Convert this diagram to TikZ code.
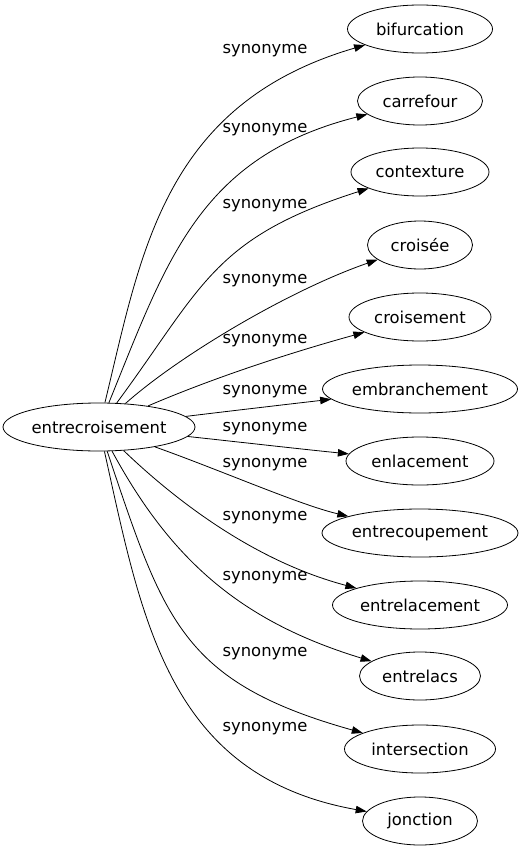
\documentclass[tikz,border=0pt]{standalone}
\usepackage{fontspec}
\setmainfont{DejaVu Sans}
\usetikzlibrary{arrows.meta,shapes.geometric}

\begin{document}
\begin{tikzpicture}[x=1pt,y=-1pt,>={Triangle[length=11pt,width=7.5pt]},line width=0.8pt,
  every node/.style={font=\fontsize{16.4}{19}\selectfont},
  word/.style={draw,ellipse,inner sep=0pt,minimum height=48pt},
  lbl/.style={inner sep=0pt}]
\useasboundingbox (0,0) rectangle (523,851);
\node[word,minimum width=192pt] (entrecroisement) at (99,427) {entrecroisement};
\foreach \n/\txt/\y/\mw in {bifurcation/bifurcation/29/145,carrefour/carrefour/101/125,
  contexture/contexture/172/138,croisee/croisée/245/105,croisement/croisement/317/142,
  embranchement/embranchement/389/195,enlacement/enlacement/461/148,
  entrecoupement/entrecoupement/533/196,entrelacement/entrelacement/605/175,
  entrelacs/entrelacs/676/121,intersection/intersection/749/151,jonction/jonction/821/115}
  \node[word,minimum width=\mw pt] (\n) at (420,\y) {\txt};
% edges and their labels
\foreach \n/\ax/\ay/\bx/\by/\ly in {bifurcation/141/254/163/104/51,carrefour/167/260/199/157/130,
  contexture/203/286/213/238/206,croisee/180/355/290/290/281,croisement/220/375/300/350/341,
  embranchement/230/411/290/404/392,enlacement/230/441/300/449/429,
  entrecoupement/220/470/300/505/465,entrelacement/170/495/250/560/518,
  entrelacs/172/562/243/622/578,intersection/164/620/181/682/654,jonction/142/620/168/776/729}
{
  \draw[->] (entrecroisement) .. controls (\ax,\ay) and (\bx,\by) .. (\n);
  \node[lbl] (l-\n) at (265,\ly) {synonyme};
}
\end{tikzpicture}
\end{document}
